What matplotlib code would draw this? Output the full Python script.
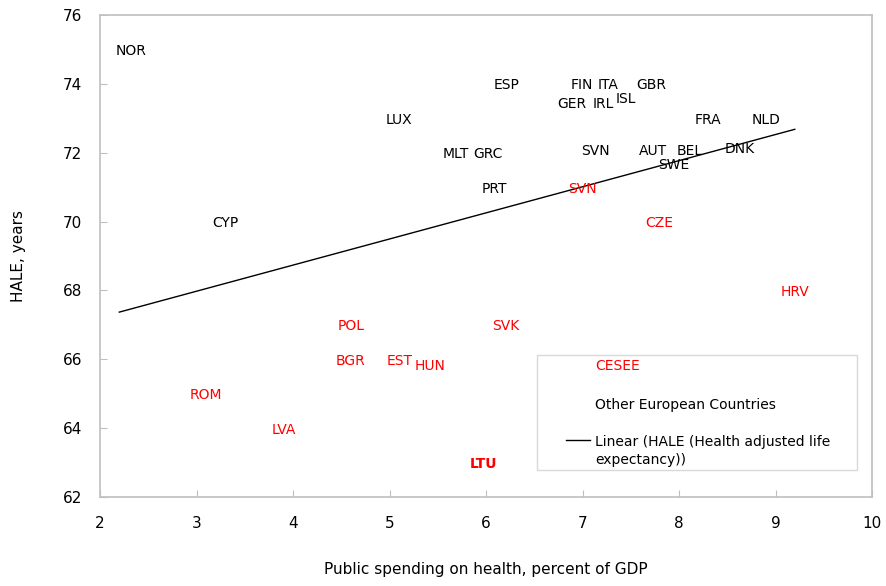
import matplotlib.pyplot as plt
from matplotlib.patches import Rectangle

# CESEE countries (red labels)
cesee_names = ['SVN', 'CZE', 'HRV', 'POL', 'SVK', 'BGR', 'EST', 'HUN', 'ROM', 'LVA', 'LTU']
cesee_spend = [7.00, 7.80, 9.20, 4.60, 6.20, 4.60, 5.11, 5.42, 3.10, 3.90, 5.97]
cesee_hale  = [71.0, 70.0, 68.0, 67.0, 67.0, 66.0, 66.0, 65.85, 65.0, 64.0, 63.0]

# Other European countries (black labels)
other_names = ['NOR', 'ESP', 'FIN', 'ITA', 'GBR', 'GER', 'IRL', 'ISL', 'LUX', 'FRA', 'NLD',
               'MLT', 'GRC', 'SVN', 'AUT', 'BEL', 'DNK', 'SWE', 'PRT', 'CYP']
other_spend = [2.32, 6.21, 6.99, 7.26, 7.71, 6.89, 7.22, 7.45, 5.10, 8.30, 8.90,
               5.69, 6.02, 7.13, 7.73, 8.11, 8.63, 7.95, 6.09, 3.30]
other_hale  = [75.0, 74.0, 74.0, 74.0, 74.0, 73.45, 73.45, 73.6, 73.0, 73.0, 73.0,
               72.0, 72.0, 72.08, 72.08, 72.1, 72.15, 71.7, 71.0, 70.0]

# Linear trend line (HALE)
trend_x = [2.2, 9.2]
trend_y = [67.37, 72.68]

RED   = '#ff0000'
GRID  = '#bfbfbf'

fig = plt.figure(figsize=(8.86, 5.86), dpi=100)
ax  = fig.add_axes([100/886, 1-497/586, 772/886, 482/586])

ax.plot(trend_x, trend_y, color='black', lw=1)

for name, x, y in zip(other_names, other_spend, other_hale):
    ax.text(x, y, name, ha='center', va='center_baseline', fontsize=10, color='black')

for name, x, y in zip(cesee_names, cesee_spend, cesee_hale):
    weight = 'bold' if name == 'LTU' else 'normal'
    ax.text(x, y, name, ha='center', va='center_baseline', fontsize=10, color=RED, fontweight=weight)

ax.set_xlim(2, 10)
ax.set_ylim(62, 76)
ax.set_xticks(range(2, 11))
ax.set_yticks(range(62, 77, 2))

for side in ax.spines.values():
    side.set_color(GRID)
    side.set_linewidth(1.2)
ax.tick_params(direction='in', color=GRID, length=5, labelsize=11)
ax.tick_params(axis='y', pad=13)
ax.tick_params(axis='x', pad=14)

ax.set_xlabel('Public spending on health, percent of GDP', fontsize=11, labelpad=22)
ax.set_ylabel('HALE, years', fontsize=11, labelpad=26)

# legend box, drawn by hand to follow the original layout
tr = ax.transAxes
ax.add_patch(Rectangle((0.566, 0.056), 0.415, 0.239, transform=tr, fill=False,
                       edgecolor='#d9d9d9', lw=1, zorder=3))
ax.text(0.641, 0.274, 'CESEE', transform=tr, color=RED, fontsize=10, va='center_baseline')
ax.text(0.641, 0.195, 'Other European Countries', transform=tr, fontsize=10, va='center_baseline')
ax.plot([0.604, 0.635], [0.118, 0.118], transform=tr, color='black', lw=1)
ax.text(0.641, 0.118, 'Linear (HALE (Health adjusted life', transform=tr, fontsize=10, va='center_baseline')
ax.text(0.641, 0.079, 'expectancy))', transform=tr, fontsize=10, va='center_baseline')

fig.savefig('out.png', dpi=100)
